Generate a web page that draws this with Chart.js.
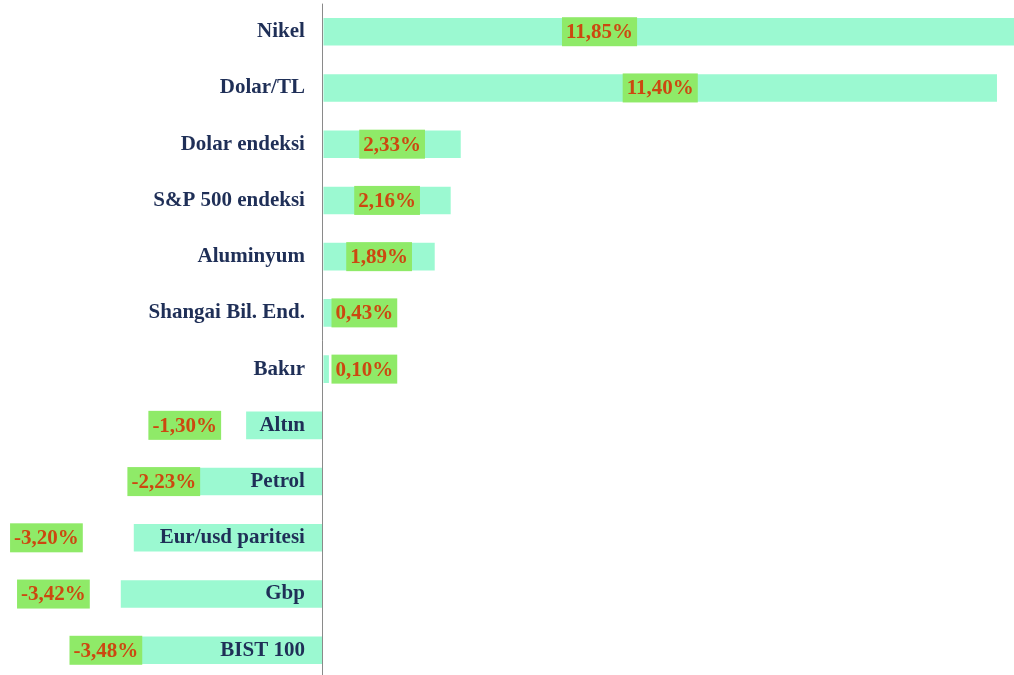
<!DOCTYPE html>
<html>
<head>
<meta charset="utf-8">
<script src="https://cdn.jsdelivr.net/npm/chart.js@4/dist/chart.umd.min.js"></script>
<style>
  html, body { margin: 0; padding: 0; background: #ffffff; overflow: hidden; }
  #wrap { position: relative; width: 1014px; height: 700px; margin-top: -9px; }
</style>
</head>
<body>
<div id="wrap"><canvas id="c"></canvas></div>
<script>
// ---- data ----
const categories = ["Nikel", "Dolar/TL", "Dolar endeksi", "S&P 500 endeksi", "Aluminyum",
  "Shangai Bil. End.", "Bakır", "Altın", "Petrol", "Eur/usd paritesi", "Gbp", "BIST 100"];
const changes = [11.85, 11.40, 2.33, 2.16, 1.89, 0.43, 0.10, -1.30, -2.23, -3.20, -3.42, -3.48];
const valueLabels = ["11,85%", "11,40%", "2,33%", "2,16%", "1,89%", "0,43%", "0,10%",
  "-1,30%", "-2,23%", "-3,20%", "-3,42%", "-3,48%"];

// ---- label placement tweaks (pixels, relative to rule-based anchor) ----
const labelNudge = [-74, 0, 0, 0, 0, 0, 0, 0, 34, -26, -6, 50];

const valueLabelPlugin = {
  id: 'valueLabels',
  afterDatasetsDraw(chart) {
    const ctx = chart.ctx;
    const meta = chart.getDatasetMeta(0);
    ctx.save();
    ctx.font = 'bold 21px "Liberation Serif", "Times New Roman", serif';
    ctx.textBaseline = 'middle';
    ctx.textAlign = 'center';
    meta.data.forEach((bar, i) => {
      const txt = valueLabels[i];
      const tw = ctx.measureText(txt).width;
      const bw = tw + 8;
      const bh = 29;
      let cx;
      if (changes[i] >= 0) {
        cx = (bar.base + bar.x) / 2;
        if (cx - bw / 2 < bar.base + 8) cx = bar.base + 8 + bw / 2;
      } else {
        cx = bar.x - 25 - bw / 2;
      }
      cx += labelNudge[i];
      ctx.fillStyle = '#8fea68';
      ctx.fillRect(cx - bw / 2, bar.y - bh / 2, bw, bh);
      ctx.fillStyle = '#cc4810';
      ctx.fillText(txt, cx, bar.y + 1);
    });
    ctx.restore();
  }
};

new Chart(document.getElementById('c'), {
  type: 'bar',
  data: {
    labels: categories,
    datasets: [{
      data: changes,
      backgroundColor: '#9bf9d1',
      borderWidth: 0,
      categoryPercentage: 1.0,
      barPercentage: 0.49
    }]
  },
  options: {
    indexAxis: 'y',
    responsive: true,
    maintainAspectRatio: false,
    animation: false,
    layout: { padding: 0 },
    plugins: {
      legend: { display: false },
      tooltip: { enabled: false },
      title: { display: false }
    },
    scales: {
      x: {
        display: true,
        min: -5.463,
        max: 11.688,
        border: { display: false },
        grid: {
          z: 1,
          drawTicks: false,
          lineWidth: 1,
          color: (c) => (c.tick && c.tick.value === 0) ? '#8a8a8a' : 'rgba(0,0,0,0)'
        },
        ticks: { display: false, stepSize: 1 }
      },
      y: {
        position: { x: -0.305 },
        grid: { display: false },
        border: { display: false },
        ticks: {
          z: 1,
          color: '#1f2f57',
          padding: 0,
          font: { family: '"Liberation Serif", "Times New Roman", serif', size: 21, weight: 'bold' }
        }
      }
    }
  },
  plugins: [valueLabelPlugin]
});
</script>
</body>
</html>
